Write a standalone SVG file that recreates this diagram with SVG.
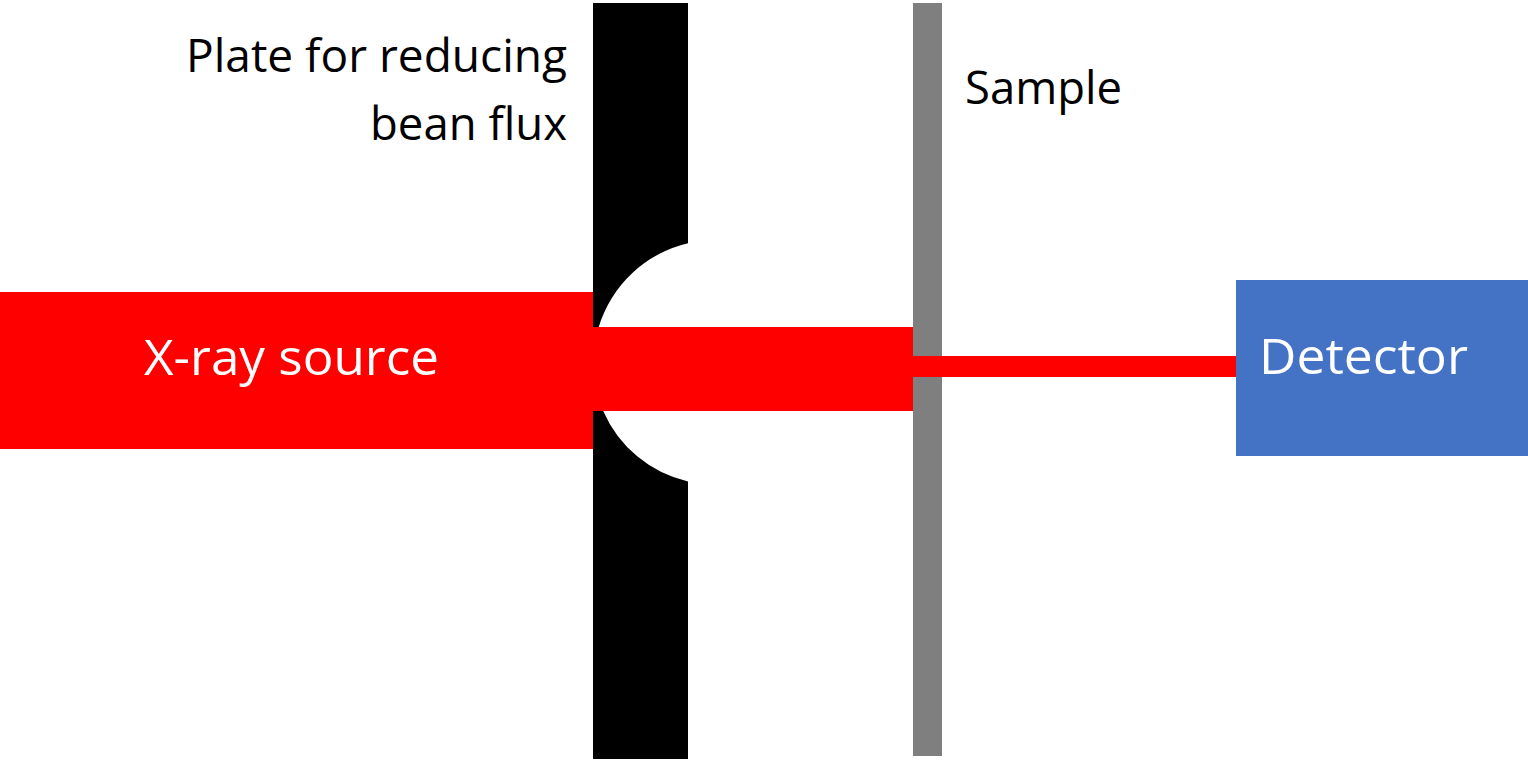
<svg xmlns="http://www.w3.org/2000/svg" width="1528" height="762" viewBox="0 0 1528 762">
<style>
.t{font-family:"Open Sans","Noto Sans","Liberation Sans",sans-serif;font-size:46px}
.b{font-size:49px}
.k{fill:#000}.w{fill:#fff}.r{fill:#f00}
</style>
<rect width="1528" height="762" fill="#fff"/>
<g id="plate">
<path class="k" d="M593 3H688V243.300A122.300 122.300 0 0 0 598.700 327H593ZM593 411H603.200A122.300 122.300 0 0 0 688 481.500V759H593Z"/>
</g>
<g id="sample">
<rect x="913" y="3" width="29" height="753" fill="#7f7f7f"/>
</g>
<g id="connectors">
<rect class="r" x="593" y="327" width="320" height="84"/>
<rect class="r" x="913" y="356" width="323" height="21"/>
</g>
<g id="xray-source">
<rect class="r" x="0" y="292" width="593" height="157"/>
<text class="t b w" x="144" y="375" textLength="295" lengthAdjust="spacingAndGlyphs">X-ray source</text>
</g>
<g id="detector">
<rect x="1236" y="280" width="292" height="176" fill="#4472c4"/>
<text class="t b w" x="1259" y="374" textLength="209" lengthAdjust="spacingAndGlyphs">Detector</text>
</g>
<g id="plate-label">
<text class="t k" x="186" y="72" textLength="381" lengthAdjust="spacingAndGlyphs">Plate for reducing</text>
<text class="t k" x="370" y="140" textLength="197" lengthAdjust="spacingAndGlyphs">bean flux</text>
</g>
<g id="sample-label">
<text class="t k" x="965" y="104" textLength="157" lengthAdjust="spacingAndGlyphs">Sample</text>
</g>
</svg>
